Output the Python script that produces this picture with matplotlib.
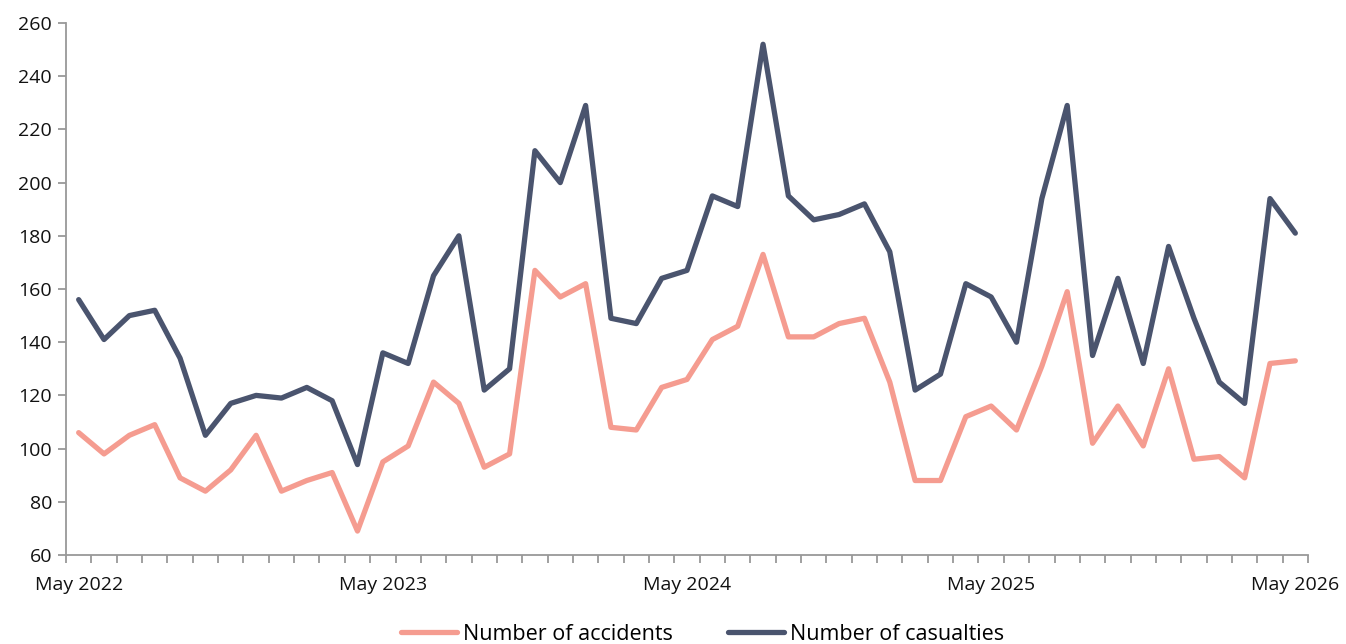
import matplotlib
matplotlib.use("Agg")
import matplotlib.pyplot as plt
import numpy as np

plt.rcParams['font.family'] = ['Open Sans', 'DejaVu Sans']

tick_labels = ["May 2022", "May 2023", "May 2024", "May 2025", "May 2026"]
accidents = [106, 98, 105, 109, 89, 84, 92, 105, 84, 88, 91, 69,
             95, 101, 125, 117, 93, 98, 167, 157, 162, 108, 107, 123,
             126, 141, 146, 173, 142, 142, 147, 149, 125, 88, 88, 112,
             116, 107, 131, 159, 102, 116, 101, 130, 96, 97, 89, 132, 133]
casualties = [156, 141, 150, 152, 134, 105, 117, 120, 119, 123, 118, 94,
              136, 132, 165, 180, 122, 130, 212, 200, 229, 149, 147, 164,
              167, 195, 191, 252, 195, 186, 188, 192, 174, 122, 128, 162,
              157, 140, 194, 229, 135, 164, 132, 176, 149, 125, 117, 194, 181]

fig = plt.figure(figsize=(13.46, 6.44), dpi=100)
ax = fig.add_axes([66/1346, 1-555/644, (1308-66)/1346, (555-23)/644])

x = np.arange(len(accidents))
ax.plot(x, accidents, color='#F59C90', lw=3.8, solid_joinstyle='round', solid_capstyle='round', label='Number of accidents')
ax.plot(x, casualties, color='#4A546E', lw=3.8, solid_joinstyle='round', solid_capstyle='round', label='Number of casualties')

ax.set_xlim(-0.5, len(x) - 0.5)
ax.set_ylim(60, 260)
ax.set_yticks(np.arange(60, 261, 20))
ax.set_xticks([0, 12, 24, 36, 48])
ax.set_xticklabels(tick_labels)
ax.set_xticks(np.arange(-0.5, len(x), 1), minor=True)
ax.tick_params(axis='x', which='major', length=0, pad=15, labelsize=14, colors='#111111')
ax.tick_params(axis='x', which='minor', length=6, width=1.3, color='#999999')
ax.tick_params(axis='y', length=6, width=1.3, color='#999999', labelsize=14, labelcolor='#111111', pad=4)
for s in ['top', 'right']:
    ax.spines[s].set_visible(False)
for s in ['left', 'bottom']:
    ax.spines[s].set_color('#999999')
    ax.spines[s].set_linewidth(1.3)

fig.legend(loc='center', bbox_to_anchor=(0.522, 0.015), ncol=2, frameon=False,
           fontsize=15.5, handlelength=2.6, columnspacing=2.6, handletextpad=0.25)

fig.savefig('out.png', dpi=100)
